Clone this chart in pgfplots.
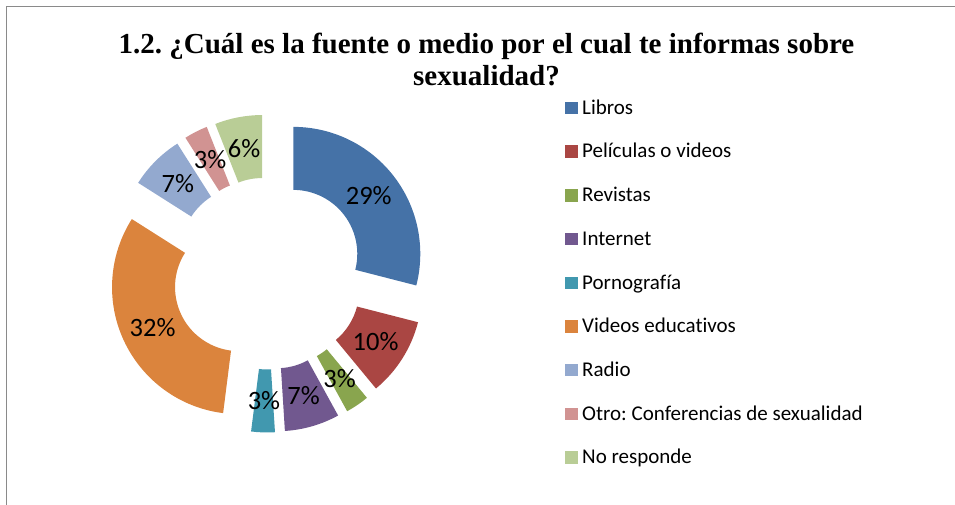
\documentclass[border=0pt]{standalone}
\usepackage{fontspec}
\setmainfont{Carlito}[Ligatures={NoCommon}]
\newfontfamily\titlefont{Liberation Serif}
\usepackage{pgfplots}
\usepackage{pgfplotstable}
\pgfplotsset{compat=1.18}
\frenchspacing

% Excel 2007 palette
\definecolor{c0}{HTML}{4572A7}
\definecolor{c1}{HTML}{AA4643}
\definecolor{c2}{HTML}{89A54E}
\definecolor{c3}{HTML}{71588F}
\definecolor{c4}{HTML}{4198AF}
\definecolor{c5}{HTML}{DB843D}
\definecolor{c6}{HTML}{93A9CF}
\definecolor{c7}{HTML}{D19392}
\definecolor{c8}{HTML}{B9CD96}
\definecolor{frame}{HTML}{8A8A8A}

\pgfplotstableread[col sep=comma]{
name,value
Libros,29
Películas o videos,10
Revistas,3
Internet,7
Pornografía,3
Videos educativos,32
Radio,7
Otro: Conferencias de sexualidad,3
No responde,6
}\datatable

\tikzset{
  lbl/.style={font=\fontsize{26.5}{26.5}\selectfont, inner sep=0pt},
  leg/.style={font=\fontsize{21}{21}\selectfont, inner sep=0pt},
}

\begin{document}
\begin{tikzpicture}
\begin{axis}[
  width=955pt, height=505pt, scale only axis,
  xmin=0, xmax=955, ymin=0, ymax=505,
  hide axis, clip=false,
]
% frame
\draw[frame, line width=1.5pt] (axis cs:6.5,0) -- (axis cs:6.5,498.5) -- (axis cs:955,498.5);

% title
\node[anchor=base, font=\titlefont\bfseries\fontsize{29}{32}\selectfont]
  at (axis cs:486.5,451) {1.2. ¿Cuál es la fuente o medio por el cual te informas sobre};
\node[anchor=base, font=\titlefont\bfseries\fontsize{29}{32}\selectfont]
  at (axis cs:486.5,419) {sexualidad?};

% donut slices, labels and legend, clockwise from 12 o'clock
\def\cum{0}
\pgfplotsforeachungrouped \i in {0,...,8}{%
  \pgfplotstablegetelem{\i}{value}\of\datatable
  \let\val\pgfplotsretval
  \pgfplotstablegetelem{\i}{name}\of\datatable
  \let\nm\pgfplotsretval
  \pgfmathsetmacro{\aS}{90-3.6*\cum}
  \pgfmathsetmacro{\aE}{90-3.6*(\cum+\val)}
  \pgfmathsetmacro{\aM}{(\aS+\aE)/2}
  % exploded centre
  \pgfmathsetmacro{\ox}{268+32*cos(\aM)}
  \pgfmathsetmacro{\oy}{231.5+32*sin(\aM)}
  \pgfmathsetmacro{\ax}{\ox+64*cos(\aS)}
  \pgfmathsetmacro{\ay}{\oy+64*sin(\aS)}
  \pgfmathsetmacro{\bx}{\ox+127*cos(\aS)}
  \pgfmathsetmacro{\by}{\oy+127*sin(\aS)}
  \pgfmathsetmacro{\dx}{\ox+64*cos(\aE)}
  \pgfmathsetmacro{\dy}{\oy+64*sin(\aE)}
  \pgfmathsetmacro{\lx}{268+127.5*cos(\aM)}
  \pgfmathsetmacro{\ly}{231.5+127.5*sin(\aM)}
  % legend row
  \pgfmathsetmacro{\gb}{390.7-43.69*\i}
  \pgfmathsetmacro{\gt}{\gb+12.5}
  \pgfmathsetmacro{\cum}{\cum+\val}
  \edef\temp{%
    \noexpand\fill[c\i] (axis cs:\ax,\ay) -- (axis cs:\bx,\by)
      arc[start angle=\aS, end angle=\aE, radius=127pt]
      -- (axis cs:\dx,\dy)
      arc[start angle=\aE, end angle=\aS, radius=64pt] -- cycle;
    \noexpand\node[lbl] at (axis cs:\lx,\ly) {\val\noexpand\%};
    \noexpand\fill[c\i] (axis cs:565,\gb) rectangle (axis cs:577.7,\gt);
    \noexpand\node[leg, anchor=base west] at (axis cs:582,\gb) {\nm};
  }%
  \temp
}
\end{axis}
\pgfresetboundingbox
\path[use as bounding box] (current axis.south west) rectangle (current axis.north east);
\end{tikzpicture}
\end{document}
